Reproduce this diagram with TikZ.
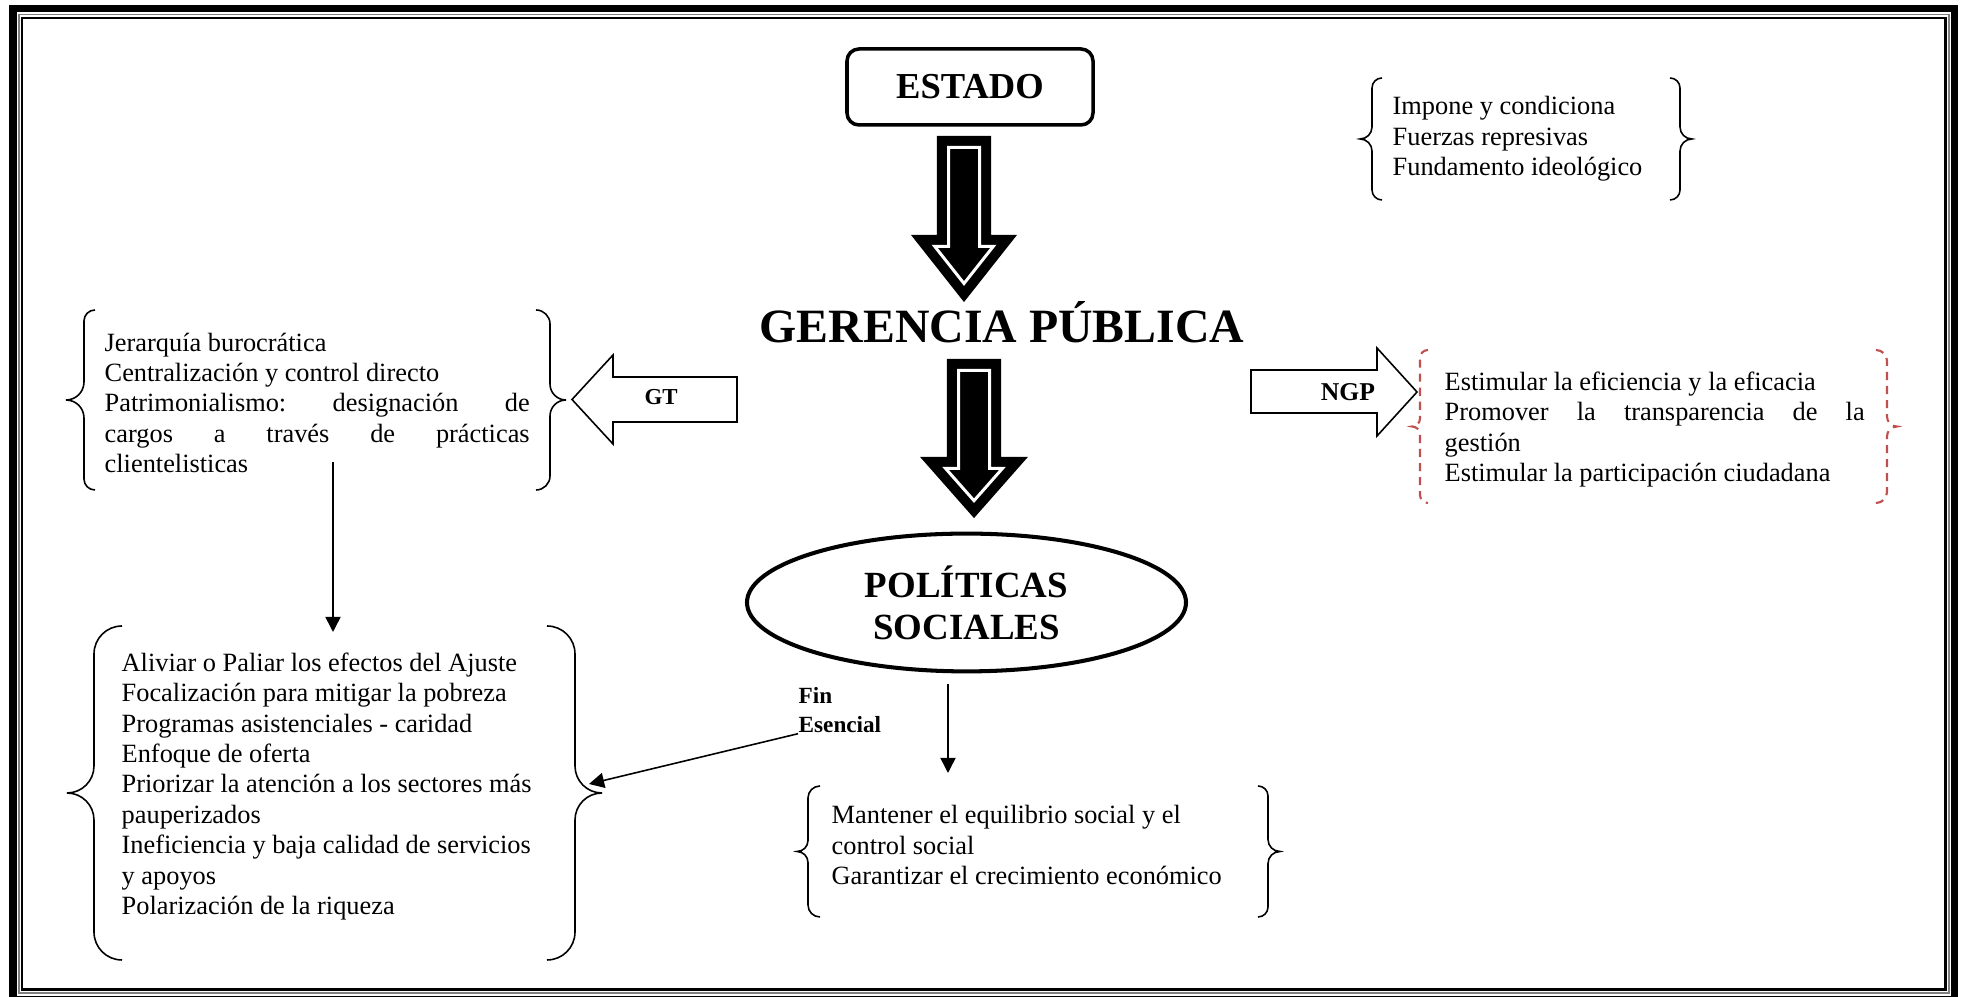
\documentclass[tikz,border=0pt]{standalone}
\usepackage{fontspec}
\setmainfont{Liberation Serif}
\usetikzlibrary{arrows.meta,positioning,calc,shapes.geometric}
\frenchspacing
\providecommand{\cuerpo}{\fontsize{7.5}{8.65}\selectfont}
\definecolor{rojollave}{RGB}{192,80,77}
% llave: [opciones]{punta}{media altura}{profundidad}{radio}
\newcommand{\llave}[5][]{%
  \draw[llavetrazo,shift={#2},#1] (#4+#5,#3) to[out=180,in=90] (#4,#3-#5) -- (#4,#4)
    to[out=-90,in=0] (0,0) to[out=0,in=90] (#4,-#4) -- (#4,-#3+#5) to[out=-90,in=180] (#4+#5,-#3);}
\tikzset{
  llavetrazo/.style={line width=0.45pt},
  rojo/.style={draw=rojollave, dash pattern=on 2.3pt off 1.7pt, line width=0.6pt},
  texto/.style={inner sep=0pt, anchor=north west, align=left, font=\cuerpo},
  justo/.style={texto, align=justify, text width=#1},
  bloque/.style={draw, line width=0.45pt, fill=white},
  flechanegra/.style={fill=black, draw=black, double=white, double distance=0.85pt, line width=2.85pt},
  conector/.style={line width=0.45pt, -{Triangle[length=4.3pt,width=4.3pt]}}
}
\begin{document}
\begin{tikzpicture}
    \useasboundingbox (0,0) rectangle (19.62,-9.97);
    \draw[line width=2.13pt] (0.13,-0.085) rectangle (19.545,-10.0);
    \draw[line width=0.3pt, gray] (0.19,-0.145) rectangle (19.49,-9.93);
    \draw[line width=0.7pt] (0.22,-0.18) rectangle (19.455,-9.895);
    % centro
    \node[draw, rounded corners=0.12cm, line width=1pt, minimum width=2.46cm, minimum height=0.76cm,
      font=\fontsize{10.4}{12}\selectfont\bfseries] (estado) at (9.70,-0.87) {ESTADO};
    \node[anchor=base, inner sep=0pt, font=\fontsize{13.6}{16}\selectfont\bfseries] (gerencia) at (10.02,-3.43) {GERENCIA PÚBLICA};
    \node[draw, ellipse, line width=1.15pt, minimum width=4.39cm, minimum height=1.35cm, align=center,
      font=\fontsize{10.5}{11.95}\selectfont\bfseries] (politicas) at (9.665,-6.025) {POLÍTICAS\\SOCIALES};
    \draw[flechanegra, shift={(9.64,-1.36)}] (-0.155,-0.115) -- (-0.155,-1.105) -- (-0.292,-1.105) -- (0,-1.475)
      -- (0.292,-1.105) -- (0.155,-1.105) -- (0.155,-0.115) -- cycle;
    \draw[flechanegra, shift={(9.74,-3.59)}] (-0.155,-0.115) -- (-0.155,-1.095) -- (-0.284,-1.095) -- (0,-1.417)
      -- (0.284,-1.095) -- (0.155,-1.095) -- (0.155,-0.115) -- cycle;
    % textos
    \node[texto] (impone) at (13.92,-0.96) {Impone y condiciona\\Fuerzas represivas\\Fundamento ideológico};
    \node[justo=4.25cm] (jerarquia) at (1.04,-3.32) {Jerarquía burocrática\par Centralización y control directo\par
      Patrimonialismo: designación de\linebreak cargos a través de prácticas\linebreak clientelisticas};
    \node[justo=4.2cm] (ngptexto) at (14.44,-3.71) {Estimular la eficiencia y la eficacia\par
      Promover la transparencia de la\linebreak gestión\par Estimular la participación ciudadana};
    \node[texto] (aliviar) at (1.21,-6.52) {Aliviar o Paliar los efectos del Ajuste\\Focalización para mitigar la pobreza\\
      Programas asistenciales - caridad\\Enfoque de oferta\\Priorizar la atención a los sectores más\\pauperizados\\
      Ineficiencia y baja calidad de servicios\\y apoyos\\Polarización de la riqueza};
    \node[texto] (mantener) at (8.31,-8.05) {Mantener el equilibrio social y el\\control social\\Garantizar el crecimiento económico};
    \node[texto, font=\fontsize{6.6}{8.25}\selectfont\bfseries] (fin) at (7.98,-6.87) {Fin\\Esencial};
    % GT y NGP
    \draw[bloque] (5.72,-3.995) -- (6.13,-3.55) -- (6.13,-3.77) -- (7.37,-3.77) -- (7.37,-4.22) -- (6.13,-4.22) -- (6.13,-4.44) -- cycle;
    \node[font=\fontsize{6.5}{8}\selectfont\bfseries] (gt) at (6.61,-3.975) {GT};
    \draw[bloque] (12.51,-3.70) -- (13.77,-3.70) -- (13.77,-3.48) -- (14.17,-3.92) -- (13.77,-4.36) -- (13.77,-4.13) -- (12.51,-4.13) -- cycle;
    \node[font=\fontsize{7.3}{9}\selectfont\bfseries] (ngp) at (13.48,-3.92) {NGP};
    % llaves
    \llave{(13.60,-1.39)}{0.61}{0.12}{0.10}
    \llave[xscale=-1]{(16.92,-1.39)}{0.61}{0.12}{0.10}
    \llave{(0.66,-4.00)}{0.90}{0.18}{0.11}
    \llave[xscale=-1]{(5.66,-4.00)}{0.90}{0.16}{0.14}
    \llave{(0.67,-7.93)}{1.67}{0.27}{0.28}
    \llave[xscale=-1]{(6.02,-7.93)}{1.67}{0.27}{0.28}
    \llave{(7.97,-8.515)}{0.655}{0.11}{0.12}
    \llave[xscale=-1]{(12.80,-8.515)}{0.655}{0.12}{0.10}
    \llave[rojo]{(14.12,-4.265)}{0.765}{0.08}{0.08}
    \llave[rojo,xscale=-1]{(18.97,-4.265)}{0.765}{0.10}{0.11}
    % conectores
    \coordinate (gtbaja) at (3.33,-4.62);
    \coordinate (aliviararriba) at (3.33,-6.32);
    \coordinate (polbaja) at (9.48,-6.84);
    \coordinate (mantenerarriba) at (9.48,-7.73);
    \coordinate (aliviarllave) at (5.89,-7.84);
    \draw[conector] (gtbaja) -- (aliviararriba);
    \draw[conector] (polbaja) -- (mantenerarriba);
    \draw[conector] (fin.south west) -- (aliviarllave);
\end{tikzpicture}
\end{document}
